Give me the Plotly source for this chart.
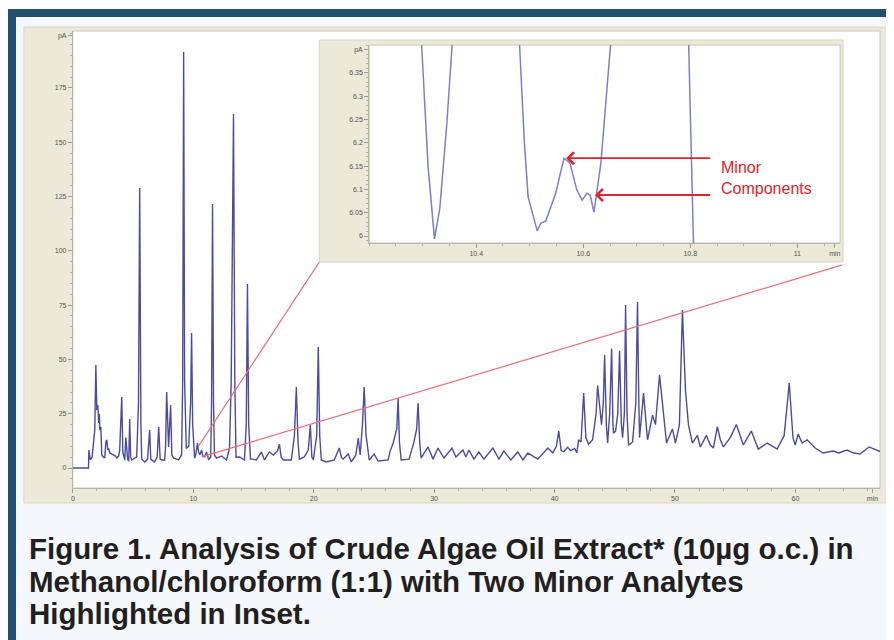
import plotly.graph_objects as go

# ---------------- data ----------------
# main chromatogram: retention time (min) and signal (pA)
time_min = [0, 1.30, 1.33, 1.45, 1.60, 1.82, 1.91, 1.99, 2.07, 2.15, 2.20, 2.24, 2.32, 2.40, 2.55, 2.65,
            2.74, 2.82, 2.90, 2.98, 3.07, 3.25, 3.40, 3.55, 3.65, 3.80, 3.89, 4.06, 4.15, 4.23, 4.31,
            4.40, 4.47, 4.55, 4.64, 4.72, 4.80, 4.89, 5.14, 5.30, 5.45, 5.55, 5.65, 5.72, 5.80, 5.97,
            6.20, 6.38, 6.47, 6.55, 6.79, 7.00, 7.13, 7.25, 7.37, 7.62, 7.70, 7.79, 7.95, 8.12, 8.22,
            8.37, 8.78, 9.03, 9.12, 9.20, 9.28, 9.42, 9.62, 9.78, 9.86, 9.95, 10.11, 10.20, 10.35,
            10.44, 10.55, 10.69, 10.80, 10.94, 11.10, 11.27, 11.45, 11.52, 11.60, 11.68, 11.76, 11.93,
            12.34, 12.76, 13.01, 13.15, 13.34, 13.45, 13.55, 13.84, 14.25, 14.40, 14.50, 14.60, 14.75,
            14.91, 15.24, 15.66, 15.91, 16.32, 16.65, 17.00, 17.15, 17.30, 17.48, 18.14, 18.40, 18.56,
            18.70, 18.81, 19.22, 19.55, 19.72, 19.85, 19.97, 20.25, 20.38, 20.50, 20.63, 21.04, 21.71,
            22.12, 22.30, 22.45, 22.87, 23.12, 23.50, 23.70, 23.86, 24.05, 24.19, 24.35, 24.61, 25.02,
            25.35, 26.18, 26.35, 26.60, 26.68, 26.90, 27.01, 27.12, 27.26, 27.92, 28.33, 28.55, 28.67,
            28.80, 28.92, 29.49, 29.91, 30.32, 30.82, 31.48, 31.81, 32.39, 32.64, 32.89, 33.31, 33.72,
            34.13, 34.88, 35.38, 35.79, 36.37, 36.95, 37.37, 37.78, 38.61, 39.44, 39.85, 40.15, 40.35,
            40.55, 40.76, 41.09, 41.34, 41.67, 41.85, 42.00, 42.20, 42.42, 42.60, 42.83, 43.16, 43.45,
            43.58, 43.74, 43.90, 44.05, 44.16, 44.30, 44.41, 44.58, 44.74, 44.85, 44.90, 45.07, 45.25,
            45.40, 45.55, 45.65, 45.80, 45.90, 46.02, 46.15, 46.48, 46.75, 46.89, 47.00, 47.06, 47.39,
            47.72, 48.14, 48.38, 48.72, 48.96, 49.30, 49.79, 50.04, 50.37, 50.62, 50.87, 51.12, 51.45,
            51.86, 52.11, 52.61, 52.94, 53.19, 53.52, 53.77, 54.02, 54.60, 55.10, 55.68, 56.34, 56.92,
            57.66, 58.49, 59.07, 59.49, 59.80, 59.98, 60.23, 60.56, 60.98, 61.64, 62.30, 63.13, 63.60,
            64.29, 64.80, 65.37, 66.12, 66.86, 67.03]
signal_pA = [0, 0, 8.3, 3.7, 5.0, 17.5, 47.4, 26.7, 29.0, 20.7, 25.0, 17.5, 19.0, 6.0, 5.0, 4.6,
             12.0, 13.0, 8.3, 9.0, 6.9, 6.5, 6.0, 5.5, 4.6, 5.5, 8.3, 32.7, 7.4, 5.0, 3.7,
             14.0, 7.4, 4.0, 3.2, 22.6, 5.0, 3.7, 4.6, 5.0, 30.0, 128.9, 20.0, 4.0, 3.7, 2.8,
             4.0, 17.5, 4.0, 3.7, 2.8, 5.0, 18.9, 4.0, 3.7, 3.7, 10.0, 35.0, 9.7, 29.0, 6.0,
             4.6, 3.7, 6.0, 40.0, 191.5, 40.0, 9.0, 10.0, 30.0, 62.2, 20.0, 4.6, 6.0, 11.5,
             7.4, 6.0, 8.3, 5.5, 5.1, 7.4, 4.0, 5.0, 30.0, 121.5, 30.0, 6.0, 4.6,
             5.5, 3.7, 9.2, 40.0, 163.0, 40.0, 5.0, 5.1, 3.7, 20.0, 84.7, 20.0, 4.1,
             4.1, 3.7, 7.4, 3.7, 7.4, 6.0, 8.0, 11.0, 5.0, 3.7, 3.7, 15.0, 37.3,
             12.0, 4.1, 5.1, 8.3, 19.8, 5.0, 3.7, 15.0, 55.7, 15.0, 3.7, 2.8, 3.7,
             9.2, 5.0, 4.1, 6.4, 2.8, 6.0, 13.8, 6.0, 20.0, 37.3, 15.0, 3.7, 6.4,
             3.2, 3.7, 7.8, 11.5, 13.0, 18.0, 32.2, 12.0, 3.7, 4.1, 12.0, 18.0, 29.9,
             12.0, 4.6, 9.7, 4.1, 9.2, 4.6, 9.2, 5.1, 8.3, 5.1, 8.3, 4.1, 7.4,
             4.1, 9.2, 4.1, 7.8, 3.7, 7.4, 3.7, 6.9, 4.1, 9.2, 7.0, 10.0, 17.0,
             8.0, 7.5, 9.5, 8.0, 9.0, 7.0, 13.0, 12.0, 34.5, 14.0, 11.0, 13.0, 25.0,
             38.0, 29.0, 20.0, 30.0, 52.0, 20.0, 11.5, 25.0, 55.0, 20.0, 16.0, 17.0, 25.0,
             54.0, 20.0, 14.0, 25.0, 75.0, 25.0, 10.5, 12.0, 30.0, 76.4, 30.0, 14.0, 34.5,
             13.0, 24.4, 20.0, 42.8, 30.0, 11.5, 18.0, 11.5, 20.0, 72.7, 36.0, 20.0, 11.5,
             15.0, 9.7, 15.0, 10.6, 9.2, 19.0, 13.0, 9.7, 14.0, 20.0, 10.6, 17.0, 8.7,
             11.5, 8.7, 15.0, 39.1, 14.0, 10.6, 15.6, 11.5, 13.0, 9.2, 6.9, 7.8, 6.9,
             8.3, 7.0, 6.4, 9.7, 7.8, 7.6]

# inset (zoom of 10.2 - 11.08 min)
inset_time = [10.287, 10.298, 10.310, 10.322, 10.332, 10.345, 10.355, 10.370,
              10.471, 10.481, 10.490, 10.497, 10.514, 10.521, 10.530, 10.548, 10.564, 10.575,
              10.588, 10.598, 10.607, 10.613, 10.620, 10.633, 10.651, 10.665,
              10.794, 10.797, 10.806, 10.808]
inset_pA = [6.60, 6.41, 6.15, 5.994, 6.06, 6.24, 6.41, 6.60,
            6.60, 6.41, 6.20, 6.084, 6.011, 6.028, 6.032, 6.09, 6.167, 6.157,
            6.099, 6.077, 6.092, 6.088, 6.051, 6.157, 6.41, 6.60,
            6.60, 6.41, 5.985, 5.95]

main_y_ticks = [0, 25, 50, 75, 100, 125, 150, 175, 199]
main_y_labels = ["0", "25", "50", "75", "100", "125", "150", "175", "pA"]
main_x_ticks = [0, 10, 20, 30, 40, 50, 60, 66.4]
main_x_labels = ["0", "10", "20", "30", "40", "50", "60", "min"]
inset_y_ticks = [6.0, 6.05, 6.1, 6.15, 6.2, 6.25, 6.3, 6.35, 6.4]
inset_y_labels = ["6", "6.05", "6.1", "6.15", "6.2", "6.25", "6.3", "6.35", "pA"]
inset_x_ticks = [10.4, 10.6, 10.8, 11.0, 11.07]
inset_x_labels = ["10.4", "10.6", "10.8", "11", "min"]

# connector lines from zoomed region to inset corners (main-axis coordinates)
connector_start = [(10.44, 10.1), (10.69, 5.1)]
connector_end = [(20.46, 94.8), (63.9, 93.5)]

# minor components arrows (inset coordinates): tip and tail
arrow_tips = [(10.568, 6.167), (10.622, 6.088)]
arrow_tail_x = 10.84

caption_lines = ["Figure 1. Analysis of Crude Algae Oil Extract* (10µg o.c.) in",
                 "Methanol/chloroform (1:1) with Two Minor Analytes",
                 "Highlighted in Inset."]

# ---------------- figure ----------------
# the page body has an 8px margin, so the figure is placed at (8, 8) of the window
OFF = 8
W, H = 894 - OFF, 640 - OFF
def px(x):
    return (x - OFF) / W
def py(y):
    return 1 - (y - OFF) / H

FONT = "Liberation Sans, Arial, sans-serif"
BEIGE = "#ece9d8"
FRAME = "#23506f"
BG = "#f4f7fb"

fig = go.Figure()
fig.add_trace(go.Scatter(x=time_min, y=signal_pA, mode="lines",
                         line=dict(color="#4a4c9c", width=1.4), xaxis="x", yaxis="y",
                         hoverinfo="skip"))
fig.add_trace(go.Scatter(x=inset_time, y=inset_pA, mode="lines",
                         line=dict(color="#7c80c6", width=1.5), xaxis="x2", yaxis="y2",
                         hoverinfo="skip"))

shapes = []
def rect(x0, y0, x1, y1, fill, line=None):
    shapes.append(dict(type="rect", xref="paper", yref="paper", x0=px(x0), x1=px(x1),
                       y0=py(y1), y1=py(y0), fillcolor=fill,
                       line=dict(width=1 if line else 0, color=line or fill), layer="below"))

rect(6, 9, 900, 650, FRAME)
rect(14, 17, 900, 650, BG)
rect(22, 27, 888, 503, BEIGE, "#d9d5c3")
rect(71, 31, 880, 488, "#ffffff", "#c9c6b8")
rect(318, 40, 843, 262, BEIGE, "#d9d5c3")
rect(368, 45, 840, 243, "#ffffff", "#c9c6b8")

for (x0, y0), (x1, y1) in zip(connector_start, connector_end):
    shapes.append(dict(type="line", xref="x", yref="y", x0=x0, y0=y0, x1=x1, y1=y1,
                       line=dict(color="#ea6f78", width=1.2), layer="above"))

annotations = []
for (tx, ty) in arrow_tips:
    annotations.append(dict(x=tx, y=ty, xref="x2", yref="y2", ax=arrow_tail_x, ay=ty,
                            axref="x2", ayref="y2", showarrow=True, arrowhead=4,
                            arrowsize=1.3, arrowwidth=1.8, arrowcolor="#e3222a", text=""))
annotations.append(dict(x=px(719), y=py(167), xref="paper", yref="paper", text="Minor",
                        showarrow=False, xanchor="left", yanchor="middle",
                        font=dict(family=FONT, size=16, color="#e3222a")))
annotations.append(dict(x=px(719), y=py(189), xref="paper", yref="paper", text="Components",
                        showarrow=False, xanchor="left", yanchor="middle",
                        font=dict(family=FONT, size=16, color="#e3222a")))
for line_text, yc in zip(caption_lines, [548, 581, 613]):
    annotations.append(dict(x=px(25), y=py(yc), xref="paper", yref="paper",
                            text="<b>" + line_text + "</b>", showarrow=False,
                            xanchor="left", yanchor="middle",
                            font=dict(family=FONT, size=29.5, color="#231f20")))

tickfont = dict(family=FONT, size=7, color="#555555")
axis_common = dict(showgrid=False, zeroline=False, showline=True, linecolor="#b8b5a8",
                   linewidth=1, ticks="outside", ticklen=4, tickcolor="#9a9a9a",
                   tickfont=tickfont, fixedrange=True)

fig.update_layout(
    width=W, height=H, margin=dict(l=0, r=0, t=0, b=0),
    paper_bgcolor="#ffffff", plot_bgcolor="rgba(0,0,0,0)",
    showlegend=False, shapes=shapes, annotations=annotations,
    xaxis=dict(domain=[px(71), px(880)], range=[0, 67.03], tickmode="array",
               tickvals=main_x_ticks, ticktext=main_x_labels, anchor="y",
               minor=dict(ticks="outside", ticklen=2, tickcolor="#b0b0b0", dtick=2),
               **axis_common),
    yaxis=dict(domain=[py(488), py(31)], range=[-9.2, 201.2], tickmode="array",
               tickvals=main_y_ticks, ticktext=main_y_labels, anchor="x",
               minor=dict(ticks="outside", ticklen=2, tickcolor="#b0b0b0", dtick=5),
               **axis_common),
    xaxis2=dict(domain=[px(368), px(840)], range=[10.2, 11.08], tickmode="array",
                tickvals=inset_x_ticks, ticktext=inset_x_labels, anchor="y2",
                minor=dict(ticks="outside", ticklen=2, tickcolor="#b0b0b0", dtick=0.05),
                **axis_common),
    yaxis2=dict(domain=[py(243), py(45)], range=[5.985, 6.41], tickmode="array",
                tickvals=inset_y_ticks, ticktext=inset_y_labels, anchor="x2",
                minor=dict(ticks="outside", ticklen=2, tickcolor="#b0b0b0", dtick=0.01),
                **axis_common),
)

fig.write_html("out.html")
